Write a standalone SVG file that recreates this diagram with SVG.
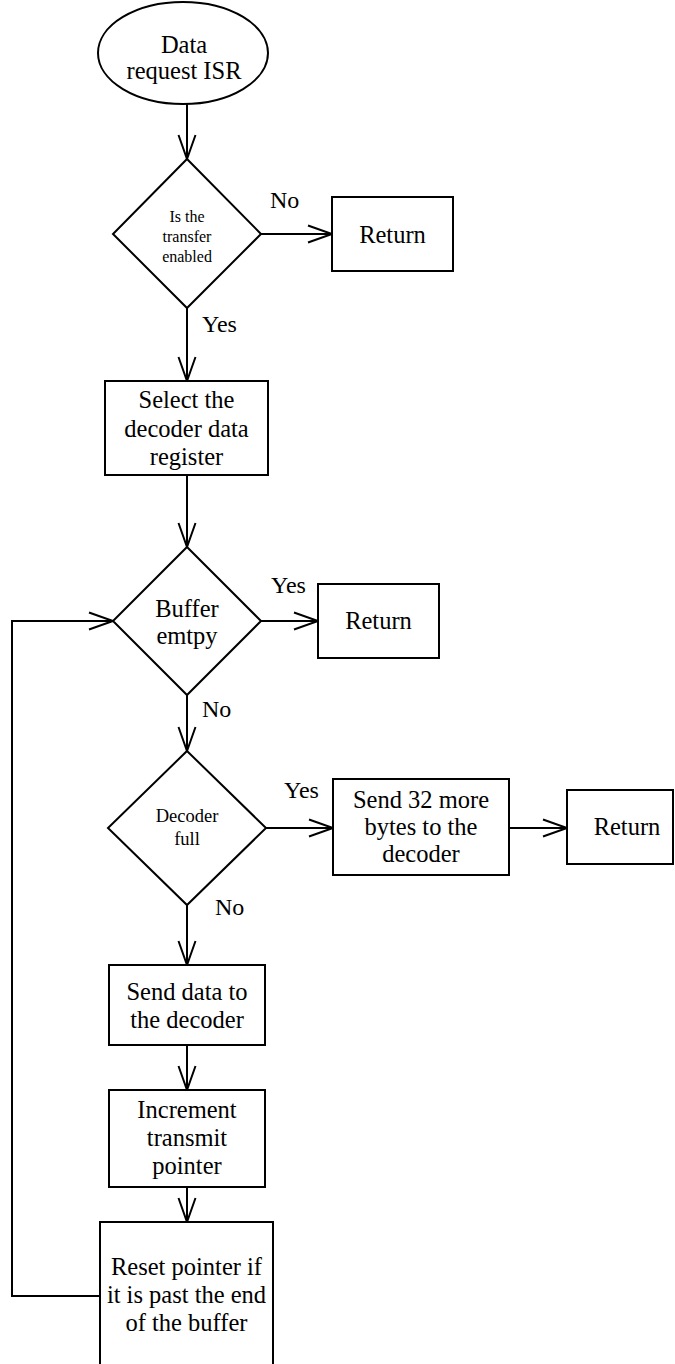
<svg xmlns="http://www.w3.org/2000/svg" width="675" height="1364" viewBox="0 0 675 1364">
<style>
.s{fill:#fff;stroke:#000;stroke-width:2}
.c{fill:none;stroke:#000;stroke-width:2;marker-end:url(#ah)}
text{font-family:"Liberation Serif","Times New Roman",serif;fill:#000;text-anchor:middle}
.t{font-size:24.5px}
.sm{font-size:16px}
.md{font-size:18.5px}
.lb{font-size:24px;text-anchor:start}
</style>
<defs>
<marker id="ah" markerUnits="userSpaceOnUse" markerWidth="26" markerHeight="20" refX="24" refY="9" orient="auto" overflow="visible">
<path d="M0,0.5 L24,9 L0,17.5" fill="none" stroke="#000" stroke-width="2"/>
</marker>
</defs>
<rect width="675" height="1364" fill="#fff"/>
<g id="connectors">
<line class="c" x1="187" y1="104" x2="187" y2="159"/>
<line class="c" x1="261" y1="234" x2="332" y2="234"/>
<line class="c" x1="187" y1="308" x2="187" y2="381"/>
<line class="c" x1="187" y1="475" x2="187" y2="547"/>
<line class="c" x1="261" y1="621" x2="318" y2="621"/>
<line class="c" x1="187" y1="695" x2="187" y2="751"/>
<line class="c" x1="266" y1="828" x2="333" y2="828"/>
<line class="c" x1="509" y1="828" x2="567" y2="828"/>
<line class="c" x1="187" y1="905" x2="187" y2="965"/>
<line class="c" x1="187" y1="1045" x2="187" y2="1090"/>
<line class="c" x1="187" y1="1187" x2="187" y2="1222"/>
<polyline class="c" points="100,1296 12,1296 12,621 113,621"/>
<text class="lb" x="270" y="208">No</text>
<text class="lb" x="202" y="332">Yes</text>
<text class="lb" x="271" y="593">Yes</text>
<text class="lb" x="202" y="717">No</text>
<text class="lb" x="284" y="798">Yes</text>
<text class="lb" x="215" y="915">No</text>
</g>
<g id="start">
<ellipse class="s" cx="183" cy="53" rx="85" ry="51"/>
<text class="t" x="184" y="53">Data</text>
<text class="t" x="184" y="79">request ISR</text>
</g>
<g id="d1">
<polygon class="s" points="187,159 261,234 187,308 113,234"/>
<text class="sm" x="187" y="222">Is the</text>
<text class="sm" x="187" y="242">transfer</text>
<text class="sm" x="187" y="262">enabled</text>
</g>
<g id="ret1">
<rect class="s" x="332" y="197" width="121" height="74"/>
<text class="t" x="392.5" y="243">Return</text>
</g>
<g id="select">
<rect class="s" x="105" y="381" width="163" height="94"/>
<text class="t" x="186.5" y="408">Select the</text>
<text class="t" x="186.5" y="437">decoder data</text>
<text class="t" x="186.5" y="465">register</text>
</g>
<g id="d2">
<polygon class="s" points="187,547 261,621 187,695 113,621"/>
<text class="t" x="187" y="617">Buffer</text>
<text class="t" x="187" y="644">emtpy</text>
</g>
<g id="ret2">
<rect class="s" x="318" y="584" width="121" height="74"/>
<text class="t" x="378.5" y="629">Return</text>
</g>
<g id="d3">
<polygon class="s" points="187,751 266,828 187,905 108,828"/>
<text class="md" x="187" y="822">Decoder</text>
<text class="md" x="187" y="845">full</text>
</g>
<g id="send32">
<rect class="s" x="333" y="779" width="176" height="96"/>
<text class="t" x="421" y="808">Send 32 more</text>
<text class="t" x="421" y="835">bytes to the</text>
<text class="t" x="421" y="862">decoder</text>
</g>
<g id="ret3">
<rect class="s" x="567" y="790" width="106" height="74"/>
<text class="t" x="627" y="835">Return</text>
</g>
<g id="senddata">
<rect class="s" x="109" y="965" width="156" height="80"/>
<text class="t" x="187" y="1000">Send data to</text>
<text class="t" x="187" y="1028">the decoder</text>
</g>
<g id="increment">
<rect class="s" x="109" y="1090" width="156" height="97"/>
<text class="t" x="187" y="1118">Increment</text>
<text class="t" x="187" y="1146">transmit</text>
<text class="t" x="187" y="1174">pointer</text>
</g>
<g id="reset">
<rect class="s" x="100" y="1222" width="173" height="160"/>
<text class="t" x="186.5" y="1275">Reset pointer if</text>
<text class="t" x="186.5" y="1303">it is past the end</text>
<text class="t" x="186.5" y="1331">of the buffer</text>
</g>
</svg>
